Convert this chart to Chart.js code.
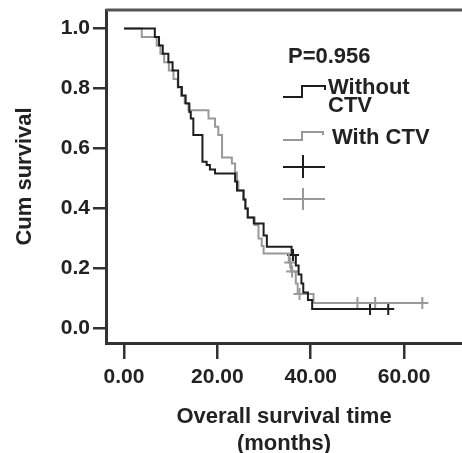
<!DOCTYPE html>
<html>
<head>
<meta charset="utf-8">
<script src="https://cdn.jsdelivr.net/npm/chart.js@4"></script>
<style>
  html, body { margin: 0; padding: 0; background: #fff; }
  canvas { display: block; }
</style>
</head>
<body>
<canvas id="km" width="462" height="453"></canvas>
<script>
// Kaplan-Meier curves (months, cum survival)
const withoutTimes = [0, 6.6, 7.5, 8.3, 9.5, 10.4, 11.6, 12.4, 13.2, 14.0, 14.3, 14.85, 16.8, 17.7, 18.4, 19.5, 23.8, 24.2, 25.6, 26.0, 26.5, 27.8, 29.9, 30.6, 35.9, 36.8, 37.4, 38.0, 38.4, 39.4, 40.3, 56.6];
const withoutSurv  = [1.0, 0.972, 0.944, 0.916, 0.888, 0.86, 0.805, 0.777, 0.75, 0.722, 0.70, 0.645, 0.556, 0.545, 0.53, 0.517, 0.49, 0.46, 0.43, 0.40, 0.37, 0.35, 0.31, 0.273, 0.245, 0.21, 0.18, 0.15, 0.12, 0.095, 0.065, 0.065];

const withTimes = [0, 3.8, 7.0, 7.8, 8.6, 9.6, 10.6, 11.5, 12.2, 13.0, 13.8, 18.1, 19.5, 20.2, 21.0, 23.1, 23.8, 24.2, 24.5, 25.6, 26.0, 26.5, 28.0, 28.8, 29.5, 29.9, 35.3, 35.8, 36.8, 37.2, 40.6, 63.9];
const withSurv  = [1.0, 0.972, 0.944, 0.916, 0.888, 0.86, 0.832, 0.804, 0.776, 0.752, 0.728, 0.70, 0.673, 0.645, 0.57, 0.55, 0.52, 0.49, 0.46, 0.43, 0.40, 0.37, 0.345, 0.30, 0.275, 0.25, 0.22, 0.19, 0.15, 0.115, 0.085, 0.085];

// censored cases
const withoutCensT = [36.2, 52.7, 56.6];
const withoutCensS = [0.245, 0.065, 0.065];
const withCensT = [35.6, 36.0, 37.6, 50.0, 53.8, 63.9];
const withCensS = [0.22, 0.19, 0.115, 0.085, 0.085, 0.085];

const xTicks = [0, 20, 40, 60];
const yTicks = [0, 0.2, 0.4, 0.6, 0.8, 1.0];

const seriesNames = ["Without\nCTV", "With CTV"];
const pValue = "P=0.956";

const BLACK = "#1e1e1e";
const GRAY = "#999999";
const AXIS = "#333333";
const FONT = "'Liberation Sans', Arial, sans-serif";

const toPts = (xs, ys) => xs.map((x, i) => ({ x: x, y: ys[i] }));

// custom legend + top frame line
const legendPlugin = {
  id: "kmLegend",
  afterDraw(chart) {
    const ctx = chart.ctx;
    const a = chart.chartArea;
    ctx.save();

    // top frame
    ctx.strokeStyle = "#555";
    ctx.lineWidth = 3;
    ctx.beginPath();
    ctx.moveTo(a.left, a.top);
    ctx.lineTo(a.right, a.top);
    ctx.stroke();

    ctx.fillStyle = "#222";
    ctx.font = "bold 22px " + FONT;
    ctx.textAlign = "left";
    ctx.textBaseline = "middle";
    ctx.fillText(pValue, 288, 57);

    ctx.lineWidth = 2;
    // black step symbol
    ctx.strokeStyle = BLACK;
    ctx.beginPath();
    ctx.moveTo(283, 97); ctx.lineTo(302, 97); ctx.lineTo(302, 86);
    ctx.lineTo(325, 86); ctx.lineTo(325, 90);
    ctx.stroke();
    const lines = seriesNames[0].split("\n");
    ctx.fillText(lines[0], 328, 88);
    ctx.fillText(lines[1], 328, 106);

    // gray step symbol
    ctx.strokeStyle = GRAY;
    ctx.beginPath();
    ctx.moveTo(283, 140); ctx.lineTo(302, 140); ctx.lineTo(302, 132);
    ctx.lineTo(323, 132); ctx.lineTo(323, 135);
    ctx.stroke();
    ctx.fillText(seriesNames[1], 332, 138);

    // censor symbols
    ctx.strokeStyle = BLACK;
    ctx.beginPath();
    ctx.moveTo(283, 167); ctx.lineTo(325, 167);
    ctx.moveTo(303, 155); ctx.lineTo(303, 178);
    ctx.stroke();
    ctx.strokeStyle = GRAY;
    ctx.beginPath();
    ctx.moveTo(283, 199); ctx.lineTo(325, 199);
    ctx.moveTo(303, 188); ctx.lineTo(303, 210);
    ctx.stroke();

    ctx.restore();
  }
};

new Chart(document.getElementById("km"), {
  type: "line",
  data: {
    datasets: [
      {
        label: "Without CTV",
        data: toPts(withoutTimes, withoutSurv),
        stepped: "before",
        borderColor: BLACK,
        borderWidth: 2,
        pointRadius: 0,
        fill: false
      },
      {
        label: "With CTV",
        data: toPts(withTimes, withSurv),
        stepped: "before",
        borderColor: GRAY,
        borderWidth: 2,
        pointRadius: 0,
        fill: false
      },
      {
        label: "Without CTV censored",
        data: toPts(withoutCensT, withoutCensS),
        showLine: false,
        pointStyle: "cross",
        pointRadius: 6,
        pointBorderWidth: 2,
        borderColor: BLACK
      },
      {
        label: "With CTV censored",
        data: toPts(withCensT, withCensS),
        showLine: false,
        pointStyle: "cross",
        pointRadius: 6,
        pointBorderWidth: 2,
        borderColor: GRAY
      }
    ]
  },
  options: {
    responsive: false,
    animation: false,
    layout: { autoPadding: false, padding: { top: 10, right: 0, left: 0, bottom: 0 } },
    plugins: {
      legend: { display: false },
      tooltip: { enabled: false }
    },
    scales: {
      x: {
        type: "linear",
        min: -3.86,
        max: 72.4,
        afterBuildTicks: s => { s.ticks = xTicks.map(v => ({ value: v })); },
        afterFit: s => { s.height = 110; s.paddingLeft = 0; s.paddingRight = 0; },
        ticks: {
          color: "#222",
          font: { family: FONT, size: 21, weight: "bold" },
          padding: 6,
          callback: v => Number(v).toFixed(2)
        },
        grid: { drawOnChartArea: false, drawTicks: true, tickLength: 16, color: AXIS, lineWidth: 2.5 },
        border: { display: true, color: AXIS, width: 3 },
        title: {
          display: true,
          text: ["Overall survival time", "(months)"],
          color: "#222",
          font: { family: FONT, size: 22, weight: "bold", lineHeight: "27px" },
          padding: { top: 0, bottom: -4 }
        }
      },
      y: {
        min: -0.048,
        max: 1.062,
        afterBuildTicks: s => { s.ticks = yTicks.map(v => ({ value: v })); },
        afterFit: s => { s.width = 106; s.paddingTop = 0; s.paddingBottom = 0; },
        ticks: {
          color: "#222",
          font: { family: FONT, size: 21, weight: "bold" },
          padding: 3,
          callback: v => Number(v).toFixed(1)
        },
        grid: { drawOnChartArea: false, drawTicks: true, tickLength: 13, color: AXIS, lineWidth: 2.5 },
        border: { display: true, color: AXIS, width: 3 },
        title: {
          display: true,
          text: "Cum survival",
          color: "#222",
          font: { family: FONT, size: 22, weight: "bold", lineHeight: 1.2 },
          padding: { top: 12, bottom: 0 }
        }
      }
    }
  },
  plugins: [legendPlugin]
});
</script>
</body>
</html>
